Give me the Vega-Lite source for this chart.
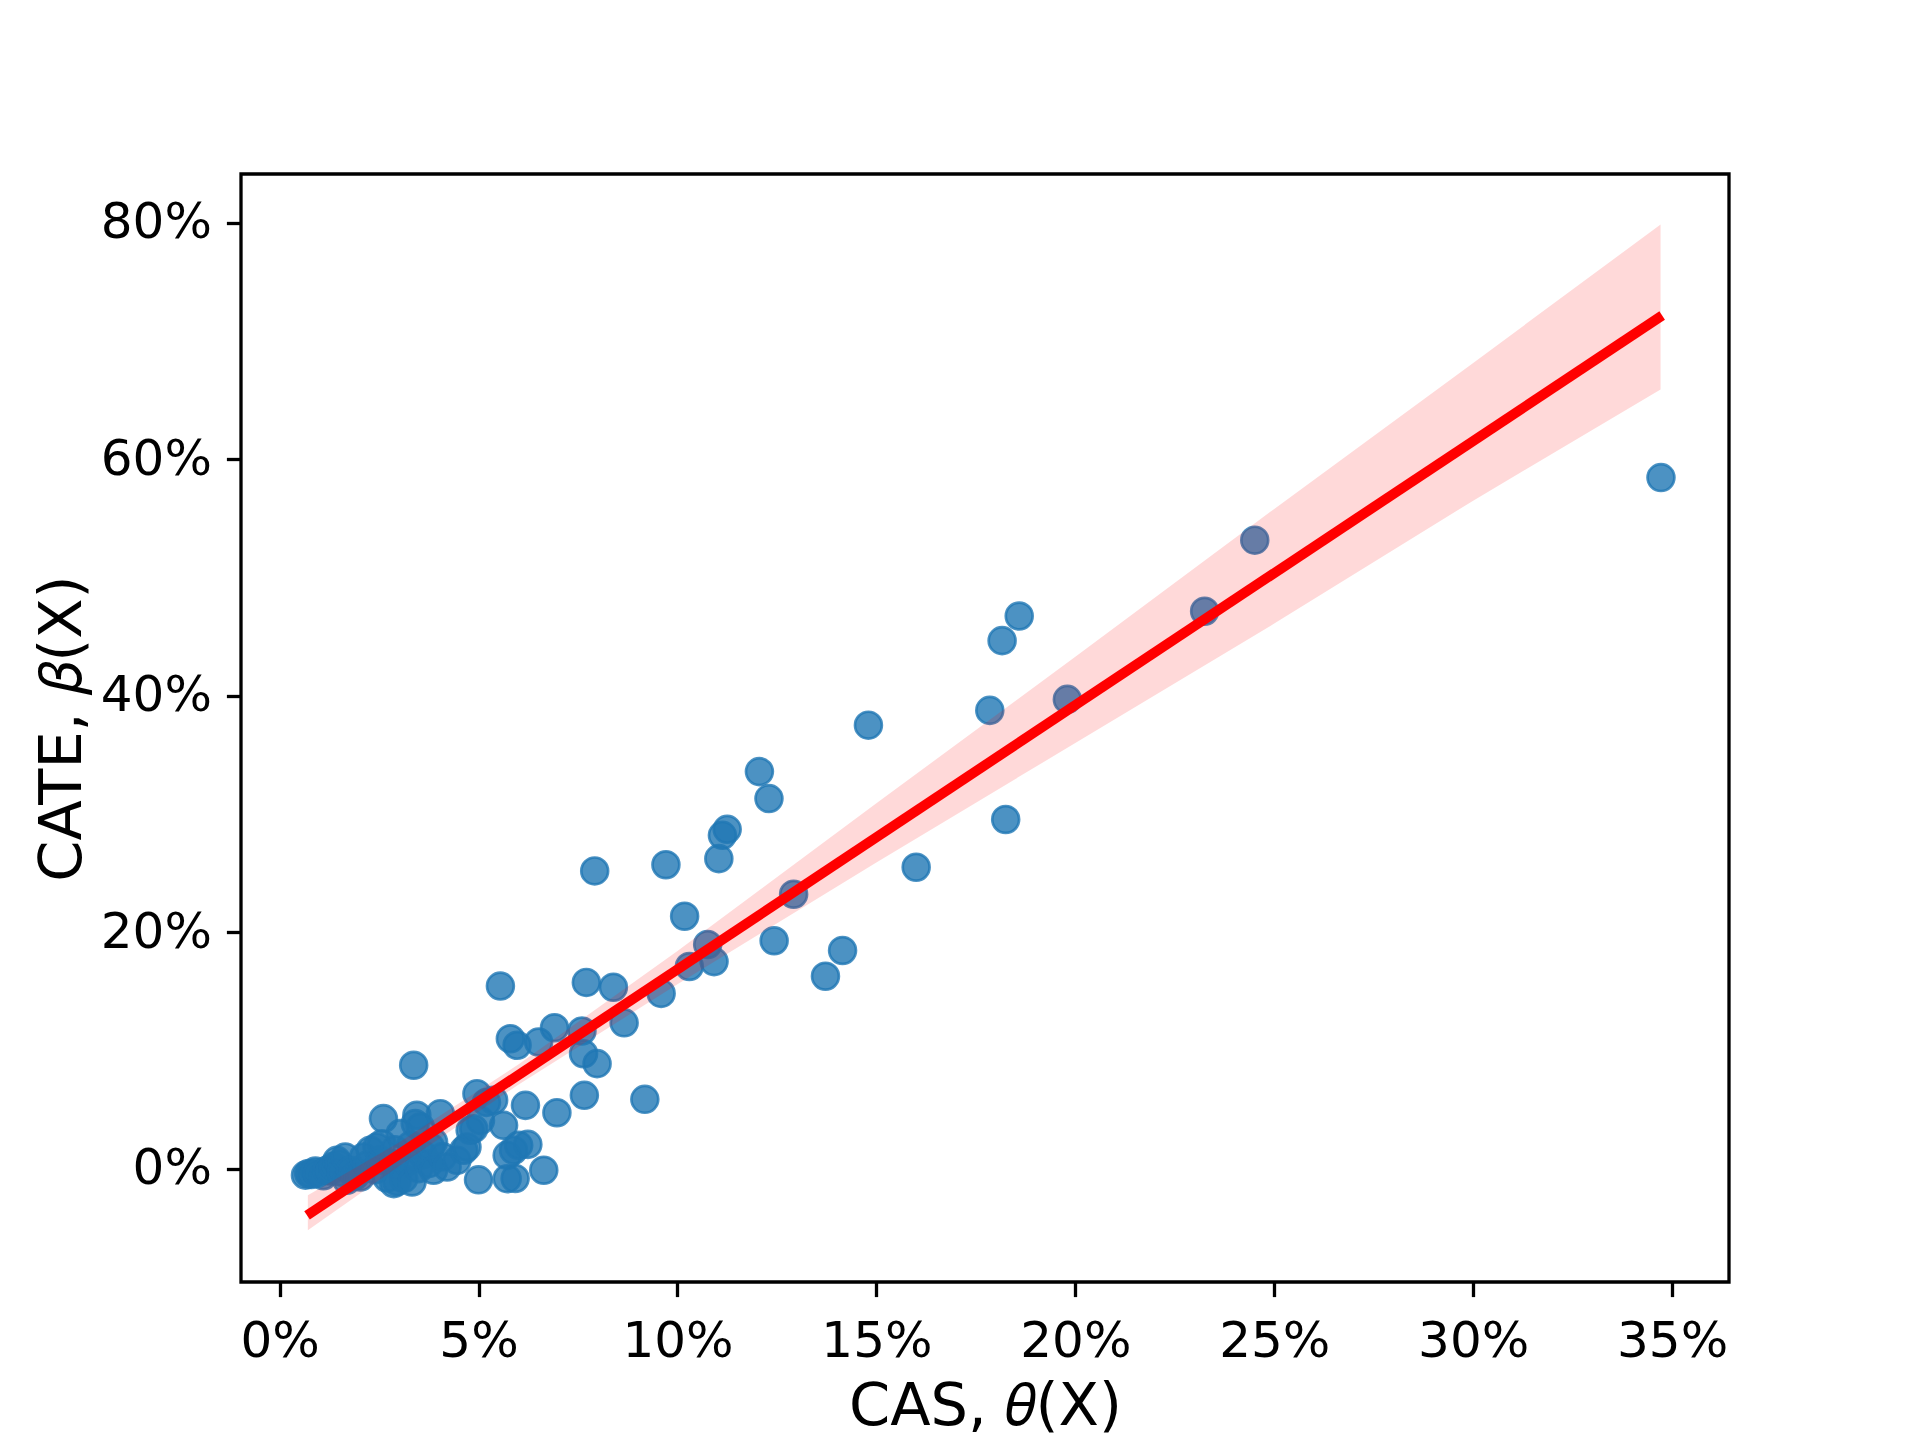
{
  "$schema": "https://vega.github.io/schema/vega-lite/v6.json",
  "width": 1488,
  "height": 1108,
  "autosize": "none",
  "padding": {"left": 241, "top": 174, "right": 191, "bottom": 158},
  "background": "white",
  "config": {
    "font": "DejaVu Sans",
    "view": {"stroke": "black", "strokeWidth": 3.3},
    "axis": {
      "domain": false,
      "grid": false,
      "tickColor": "black",
      "tickWidth": 3.3,
      "tickSize": 14.6,
      "labelFont": "DejaVu Sans",
      "labelFontSize": 50,
      "labelColor": "black",
      "titleFont": "DejaVu Sans",
      "titleFontSize": 59,
      "titleFontWeight": "normal",
      "titleColor": "black"
    }
  },
  "datasets": {
    "pts": [
      {"cas": 0.0065, "cate": -0.0055}, {"cas": 0.0073, "cate": -0.0042}, {"cas": 0.0080, "cate": -0.0050},
      {"cas": 0.0090, "cate": -0.0020}, {"cas": 0.0095, "cate": -0.0040}, {"cas": 0.0110, "cate": -0.0060},
      {"cas": 0.0119, "cate": -0.0014}, {"cas": 0.0127, "cate": -0.0020}, {"cas": 0.0135, "cate": 0.0020},
      {"cas": 0.0144, "cate": 0.0070}, {"cas": 0.0150, "cate": 0.0040}, {"cas": 0.0155, "cate": -0.0030},
      {"cas": 0.0165, "cate": 0.0098}, {"cas": 0.0169, "cate": -0.0099}, {"cas": 0.0178, "cate": -0.0014},
      {"cas": 0.0190, "cate": -0.0060}, {"cas": 0.0203, "cate": -0.0071}, {"cas": 0.0211, "cate": 0.0098},
      {"cas": 0.0220, "cate": 0.0030}, {"cas": 0.0228, "cate": 0.0155}, {"cas": 0.0240, "cate": -0.0010},
      {"cas": 0.0245, "cate": 0.0183}, {"cas": 0.0253, "cate": 0.0070}, {"cas": 0.0257, "cate": 0.0211},
      {"cas": 0.0261, "cate": 0.0423}, {"cas": 0.0270, "cate": -0.0080}, {"cas": 0.0287, "cate": -0.0127},
      {"cas": 0.0287, "cate": 0.0042}, {"cas": 0.0290, "cate": 0.0160}, {"cas": 0.0295, "cate": -0.0110},
      {"cas": 0.0303, "cate": 0.0014}, {"cas": 0.0303, "cate": 0.0296}, {"cas": 0.0312, "cate": -0.0085},
      {"cas": 0.0320, "cate": 0.0060}, {"cas": 0.0330, "cate": 0.0200}, {"cas": 0.0333, "cate": -0.0113},
      {"cas": 0.0337, "cate": 0.0874}, {"cas": 0.0341, "cate": 0.0381}, {"cas": 0.0345, "cate": 0.0451},
      {"cas": 0.0350, "cate": 0.0000}, {"cas": 0.0354, "cate": 0.0352}, {"cas": 0.0360, "cate": 0.0120},
      {"cas": 0.0375, "cate": 0.0042}, {"cas": 0.0379, "cate": 0.0183}, {"cas": 0.0387, "cate": 0.0225},
      {"cas": 0.0387, "cate": -0.0014}, {"cas": 0.0404, "cate": 0.0465}, {"cas": 0.0410, "cate": 0.0100},
      {"cas": 0.0421, "cate": 0.0014}, {"cas": 0.0446, "cate": 0.0070}, {"cas": 0.0463, "cate": 0.0155},
      {"cas": 0.0471, "cate": 0.0183}, {"cas": 0.0479, "cate": 0.0324}, {"cas": 0.0488, "cate": 0.0338},
      {"cas": 0.0496, "cate": 0.0634}, {"cas": 0.0500, "cate": -0.0095}, {"cas": 0.0505, "cate": 0.0408},
      {"cas": 0.0520, "cate": 0.0560}, {"cas": 0.0538, "cate": 0.0578}, {"cas": 0.0555, "cate": 0.1544},
      {"cas": 0.0563, "cate": 0.0366}, {"cas": 0.0572, "cate": -0.0085}, {"cas": 0.0572, "cate": 0.0112},
      {"cas": 0.0580, "cate": 0.1099}, {"cas": 0.0588, "cate": 0.0155}, {"cas": 0.0592, "cate": -0.0083},
      {"cas": 0.0597, "cate": 0.1043}, {"cas": 0.0601, "cate": 0.0197}, {"cas": 0.0618, "cate": 0.0535},
      {"cas": 0.0624, "cate": 0.0205}, {"cas": 0.0651, "cate": 0.1071}, {"cas": 0.0664, "cate": -0.0014},
      {"cas": 0.0691, "cate": 0.1192}, {"cas": 0.0697, "cate": 0.0473}, {"cas": 0.0760, "cate": 0.1164},
      {"cas": 0.0764, "cate": 0.0972}, {"cas": 0.0766, "cate": 0.0620}, {"cas": 0.0771, "cate": 0.1575},
      {"cas": 0.0792, "cate": 0.2518}, {"cas": 0.0798, "cate": 0.0888}, {"cas": 0.0839, "cate": 0.1534},
      {"cas": 0.0866, "cate": 0.1233}, {"cas": 0.0918, "cate": 0.0586}, {"cas": 0.0959, "cate": 0.1482},
      {"cas": 0.0971, "cate": 0.2570}, {"cas": 0.1018, "cate": 0.2135}, {"cas": 0.1030, "cate": 0.1710},
      {"cas": 0.1076, "cate": 0.1896}, {"cas": 0.1092, "cate": 0.1751}, {"cas": 0.1104, "cate": 0.2622},
      {"cas": 0.1113, "cate": 0.2819}, {"cas": 0.1125, "cate": 0.2870}, {"cas": 0.1206, "cate": 0.3358},
      {"cas": 0.1230, "cate": 0.3130}, {"cas": 0.1243, "cate": 0.1927}, {"cas": 0.1292, "cate": 0.2321},
      {"cas": 0.1372, "cate": 0.1627}, {"cas": 0.1415, "cate": 0.1845}, {"cas": 0.1480, "cate": 0.3751},
      {"cas": 0.1600, "cate": 0.2549}, {"cas": 0.1785, "cate": 0.3876}, {"cas": 0.1816, "cate": 0.4466},
      {"cas": 0.1825, "cate": 0.2953}, {"cas": 0.1859, "cate": 0.4674}, {"cas": 0.1980, "cate": 0.3969},
      {"cas": 0.2325, "cate": 0.4715}, {"cas": 0.2451, "cate": 0.5316}, {"cas": 0.3472, "cate": 0.5845}
    ],
    "band": [
      {"x": 0.0071, "lo": -0.0522, "hi": -0.0226},
      {"x": 0.03, "lo": 0.0020, "hi": 0.0220},
      {"x": 0.06, "lo": 0.0710, "hi": 0.0880},
      {"x": 0.10, "lo": 0.1560, "hi": 0.1840},
      {"x": 0.15, "lo": 0.2590, "hi": 0.3090},
      {"x": 0.20, "lo": 0.3600, "hi": 0.4330},
      {"x": 0.25, "lo": 0.4610, "hi": 0.5580},
      {"x": 0.30, "lo": 0.5650, "hi": 0.6815},
      {"x": 0.3471, "lo": 0.6590, "hi": 0.7986}
    ],
    "fit": [
      {"x": 0.0069, "y": -0.0395},
      {"x": 0.3475, "y": 0.7216}
    ]
  },
  "layer": [
    {
      "data": {"name": "pts"},
      "mark": {"type": "point", "shape": "circle", "filled": true, "size": 720, "color": "#1f77b4", "fillOpacity": 0.8, "stroke": "#1f77b4", "strokeWidth": 2.7, "strokeOpacity": 0.8, "clip": true},
      "encoding": {
        "x": {"field": "cas", "type": "quantitative",
              "scale": {"domain": [-0.0097, 0.3643], "nice": false, "zero": false},
              "axis": {"values": [0, 0.05, 0.1, 0.15, 0.2, 0.25, 0.3, 0.35], "format": ".0%", "labelPadding": 20, "titlePadding": 11, "title": "CAS, 𝜃(X)"}},
        "y": {"field": "cate", "type": "quantitative",
              "scale": {"domain": [-0.0959, 0.8413], "nice": false, "zero": false},
              "axis": {"values": [0, 0.2, 0.4, 0.6, 0.8], "format": ".0%", "labelPadding": 15, "titlePadding": 8, "title": "CATE, 𝛽(X)"}}
      }
    },
    {
      "data": {"name": "band"},
      "mark": {"type": "area", "color": "red", "opacity": 0.15, "clip": true},
      "encoding": {
        "x": {"field": "x", "type": "quantitative"},
        "y": {"field": "lo", "type": "quantitative"},
        "y2": {"field": "hi"}
      }
    },
    {
      "data": {"name": "fit"},
      "mark": {"type": "line", "color": "red", "strokeWidth": 10, "clip": true},
      "encoding": {
        "x": {"field": "x", "type": "quantitative"},
        "y": {"field": "y", "type": "quantitative"}
      }
    }
  ]
}
